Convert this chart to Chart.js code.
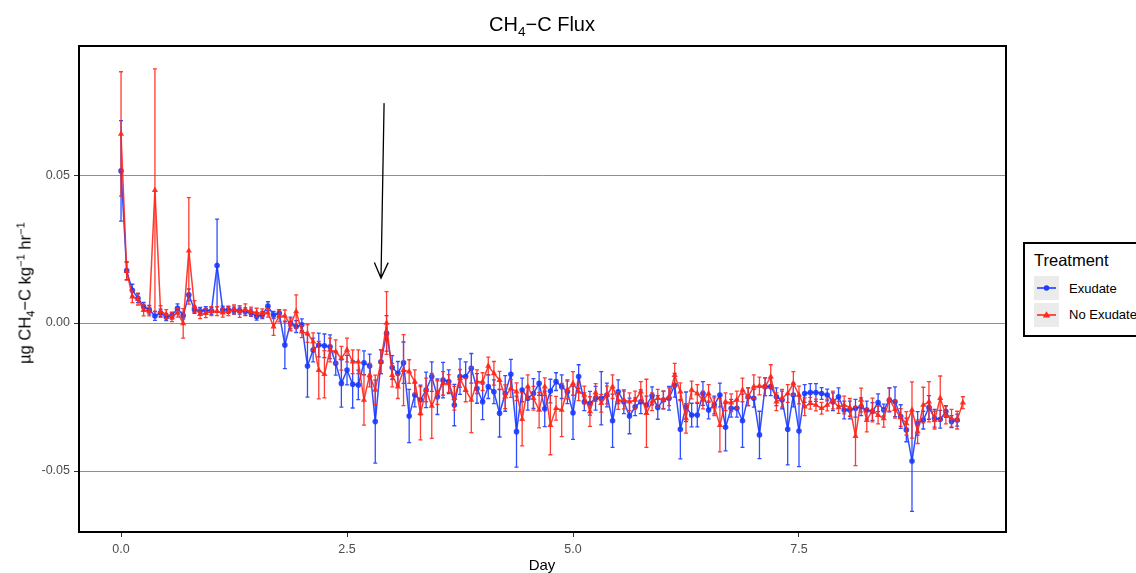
<!DOCTYPE html>
<html>
<head>
<meta charset="utf-8">
<title>CH4-C Flux</title>
<script src="https://cdn.jsdelivr.net/npm/chart.js@4/dist/chart.umd.min.js"></script>
<style>
    html, body { margin: 0; padding: 0; background: #fff; overflow: hidden; }
    body { width: 1136px; height: 573px; position: relative; font-family: "Liberation Sans", Arial, sans-serif; color: #000; }
    #chartWrap { position: absolute; left: 0; top: 0; width: 1136px; height: 573px; }
    .lbl { position: absolute; white-space: nowrap; line-height: 1.15; }
    #ttl { left: 392px; width: 300px; top: 13px; text-align: center; font-size: 20px; }
    #xTitle { left: 492px; width: 100px; top: 556px; text-align: center; font-size: 15px; }
    #yTitle { left: 25px; top: 293px; font-size: 16.5px; transform: translate(-50%, -50%) rotate(-90deg); }
    sub, sup { font-size: 68%; line-height: 0; }
    #legend { position: absolute; left: 1023px; top: 242px; width: 150px; height: 91px; border: 2px solid #000; background: #fff; }
    #legend .head { position: absolute; left: 9px; top: 7px; font-size: 16.5px; }
    #legend .key { position: absolute; left: 9px; width: 25px; height: 24px; background: #ebebeb; }
    #legend .txt { position: absolute; left: 44px; font-size: 13px; }
</style>
</head>
<body>
<div id="chartWrap"><canvas id="cvFlux" width="1136" height="573"></canvas></div>

<div id="ttl" class="lbl">CH<sub>4</sub>−C Flux</div>
<div id="xTitle" class="lbl">Day</div>
<div id="yTitle" class="lbl">µg CH<sub>4</sub>−C kg<sup>−1</sup> hr<sup>−1</sup></div>

<div id="legend">
    <div class="head">Treatment</div>
    <div class="key" style="top:32px">
        <svg width="25" height="24"><line x1="3" y1="12" x2="22" y2="12" stroke="#1f3cff" stroke-width="1.6"/><circle cx="12.5" cy="12" r="2.8" fill="#1f3cff"/></svg>
    </div>
    <div class="txt" style="top:37px">Exudate</div>
    <div class="key" style="top:59px">
        <svg width="25" height="24"><line x1="3" y1="12" x2="22" y2="12" stroke="#ff2a1c" stroke-width="1.6"/><polygon points="12.5,8.2 16.2,14.6 8.8,14.6" fill="#ff2a1c"/></svg>
    </div>
    <div class="txt" style="top:63px">No Exudate</div>
</div>

<script>
"use strict";

/* ---------------- Data ---------------- */
const DAY_STEP = 0.0625;            // sampling interval, days
const X_TICKS = [0, 2.5, 5, 7.5];
const Y_TICKS = [-0.05, 0, 0.05];

const exudateFlux = [
    0.0514, 0.0177, 0.0111, 0.0084, 0.0055, 0.0045, 0.0024, 0.0035, 0.0020, 0.0025,
    0.0050, 0.0025, 0.0095, 0.0045, 0.0041, 0.0043, 0.0041, 0.0194, 0.0045, 0.0045,
    0.0042, 0.0042, 0.0039, 0.0035, 0.0022, 0.0027, 0.0057, 0.0027, 0.0033, -0.0074,
    0.0000, -0.0012, -0.0006, -0.0145, -0.0091, -0.0074, -0.0077, -0.0080, -0.0136, -0.0204,
    -0.0159, -0.0207, -0.0209, -0.0134, -0.0145, -0.0333, -0.0131, -0.0035, -0.0150, -0.0170,
    -0.0134, -0.0314, -0.0243, -0.0260, -0.0226, -0.0181, -0.0249, -0.0193, -0.0198, -0.0277,
    -0.0181, -0.0181, -0.0153, -0.0221, -0.0266, -0.0215, -0.0232, -0.0305, -0.0238, -0.0173,
    -0.0367, -0.0226, -0.0254, -0.0238, -0.0204, -0.0290, -0.0230, -0.0198, -0.0215, -0.0232,
    -0.0303, -0.0181, -0.0266, -0.0271, -0.0254, -0.0254, -0.0243, -0.0330, -0.0232, -0.0266,
    -0.0314, -0.0283, -0.0266, -0.0277, -0.0246, -0.0285, -0.0260, -0.0254, -0.0210, -0.0359,
    -0.0283, -0.0311, -0.0311, -0.0238, -0.0294, -0.0277, -0.0243, -0.0352, -0.0288, -0.0288,
    -0.0330, -0.0249, -0.0254, -0.0378, -0.0215, -0.0215, -0.0249, -0.0260, -0.0359, -0.0243,
    -0.0365, -0.0238, -0.0235, -0.0235, -0.0238, -0.0243, -0.0266, -0.0249, -0.0294, -0.0294,
    -0.0288, -0.0283, -0.0294, -0.0299, -0.0269, -0.0294, -0.0260, -0.0266, -0.0316, -0.0361,
    -0.0466, -0.0339, -0.0328, -0.0285, -0.0322, -0.0325, -0.0299, -0.0333, -0.0328
];
const exudateErr = [
    0.0170, 0.0030, 0.0020, 0.0015, 0.0015, 0.0015, 0.0015, 0.0012, 0.0012, 0.0012,
    0.0015, 0.0012, 0.0020, 0.0012, 0.0012, 0.0012, 0.0012, 0.0157, 0.0012, 0.0012,
    0.0012, 0.0012, 0.0012, 0.0012, 0.0012, 0.0012, 0.0015, 0.0012, 0.0012, 0.0080,
    0.0020, 0.0020, 0.0020, 0.0105, 0.0040, 0.0040, 0.0040, 0.0040, 0.0040, 0.0080,
    0.0050, 0.0080, 0.0050, 0.0040, 0.0040, 0.0140, 0.0040, 0.0060, 0.0040, 0.0040,
    0.0070, 0.0090, 0.0040, 0.0050, 0.0060, 0.0050, 0.0060, 0.0060, 0.0040, 0.0070,
    0.0060, 0.0050, 0.0050, 0.0050, 0.0060, 0.0040, 0.0040, 0.0080, 0.0060, 0.0050,
    0.0120, 0.0040, 0.0040, 0.0050, 0.0040, 0.0060, 0.0040, 0.0030, 0.0040, 0.0040,
    0.0090, 0.0040, 0.0030, 0.0040, 0.0040, 0.0090, 0.0040, 0.0090, 0.0040, 0.0040,
    0.0060, 0.0030, 0.0040, 0.0030, 0.0030, 0.0040, 0.0030, 0.0040, 0.0040, 0.0100,
    0.0050, 0.0040, 0.0040, 0.0040, 0.0030, 0.0030, 0.0040, 0.0080, 0.0030, 0.0030,
    0.0090, 0.0030, 0.0030, 0.0080, 0.0030, 0.0030, 0.0030, 0.0030, 0.0120, 0.0040,
    0.0120, 0.0030, 0.0030, 0.0030, 0.0020, 0.0020, 0.0030, 0.0030, 0.0030, 0.0030,
    0.0030, 0.0030, 0.0030, 0.0030, 0.0030, 0.0020, 0.0040, 0.0050, 0.0040, 0.0040,
    0.0170, 0.0040, 0.0030, 0.0040, 0.0030, 0.0030, 0.0020, 0.0020, 0.0020
];

const noExudateFlux = [
    0.0639, 0.0175, 0.0089, 0.0081, 0.0044, 0.0039, 0.0449, 0.0039, 0.0030, 0.0020,
    0.0035, -0.0001, 0.0244, 0.0056, 0.0030, 0.0033, 0.0040, 0.0040, 0.0035, 0.0040,
    0.0046, 0.0039, 0.0045, 0.0039, 0.0035, 0.0033, 0.0035, -0.0012, 0.0024, 0.0024,
    -0.0006, 0.0039, -0.0029, -0.0035, -0.0063, -0.0159, -0.0173, -0.0091, -0.0097, -0.0119,
    -0.0091, -0.0131, -0.0131, -0.0260, -0.0176, -0.0226, -0.0131, 0.0000, -0.0176, -0.0215,
    -0.0159, -0.0164, -0.0198, -0.0305, -0.0226, -0.0280, -0.0235, -0.0204, -0.0204, -0.0254,
    -0.0187, -0.0226, -0.0260, -0.0198, -0.0198, -0.0145, -0.0170, -0.0193, -0.0249, -0.0221,
    -0.0232, -0.0325, -0.0215, -0.0254, -0.0294, -0.0215, -0.0345, -0.0288, -0.0294, -0.0226,
    -0.0204, -0.0232, -0.0243, -0.0299, -0.0235, -0.0271, -0.0243, -0.0215, -0.0262, -0.0260,
    -0.0266, -0.0260, -0.0232, -0.0305, -0.0266, -0.0254, -0.0260, -0.0249, -0.0176, -0.0232,
    -0.0322, -0.0226, -0.0238, -0.0260, -0.0238, -0.0283, -0.0345, -0.0266, -0.0269, -0.0260,
    -0.0226, -0.0249, -0.0215, -0.0213, -0.0215, -0.0181, -0.0266, -0.0254, -0.0238, -0.0204,
    -0.0243, -0.0283, -0.0271, -0.0277, -0.0288, -0.0277, -0.0260, -0.0285, -0.0277, -0.0285,
    -0.0382, -0.0260, -0.0328, -0.0294, -0.0311, -0.0322, -0.0258, -0.0291, -0.0319, -0.0339,
    -0.0294, -0.0367, -0.0277, -0.0266, -0.0328, -0.0254, -0.0311, -0.0322, -0.0328, -0.0269
];
const noExudateErr = [
    0.0210, 0.0030, 0.0020, 0.0020, 0.0020, 0.0015, 0.0410, 0.0020, 0.0015, 0.0015,
    0.0015, 0.0050, 0.0180, 0.0020, 0.0015, 0.0015, 0.0015, 0.0015, 0.0015, 0.0015,
    0.0015, 0.0020, 0.0020, 0.0015, 0.0015, 0.0015, 0.0015, 0.0030, 0.0020, 0.0020,
    0.0020, 0.0056, 0.0020, 0.0030, 0.0030, 0.0097, 0.0080, 0.0040, 0.0040, 0.0040,
    0.0040, 0.0040, 0.0040, 0.0085, 0.0040, 0.0050, 0.0040, 0.0106, 0.0040, 0.0040,
    0.0120, 0.0040, 0.0040, 0.0090, 0.0040, 0.0110, 0.0040, 0.0040, 0.0030, 0.0040,
    0.0030, 0.0040, 0.0110, 0.0040, 0.0030, 0.0030, 0.0040, 0.0030, 0.0040, 0.0030,
    0.0030, 0.0090, 0.0040, 0.0040, 0.0060, 0.0030, 0.0100, 0.0040, 0.0090, 0.0030,
    0.0040, 0.0030, 0.0030, 0.0050, 0.0030, 0.0030, 0.0030, 0.0040, 0.0030, 0.0030,
    0.0030, 0.0030, 0.0034, 0.0115, 0.0030, 0.0030, 0.0030, 0.0030, 0.0040, 0.0030,
    0.0050, 0.0030, 0.0030, 0.0030, 0.0030, 0.0030, 0.0090, 0.0030, 0.0030, 0.0030,
    0.0040, 0.0030, 0.0040, 0.0030, 0.0030, 0.0040, 0.0030, 0.0030, 0.0030, 0.0040,
    0.0030, 0.0030, 0.0020, 0.0020, 0.0020, 0.0020, 0.0030, 0.0020, 0.0030, 0.0030,
    0.0100, 0.0040, 0.0040, 0.0040, 0.0030, 0.0030, 0.0040, 0.0030, 0.0030, 0.0040,
    0.0095, 0.0040, 0.0060, 0.0068, 0.0030, 0.0075, 0.0030, 0.0030, 0.0030, 0.0020
];

// annotation arrow, in data units (day, flux)
const ARROW_FROM = { x: 2.91, y: 0.0743 };
const ARROW_TO = { x: 2.876, y: 0.0152 };

(function (window, document) {
    "use strict";

    const COLORS = {
        exudate: "rgba(25, 58, 255, 0.9)",
        noExudate: "rgba(255, 38, 26, 0.9)",
        grid: "#8f8f8f",
        tick: "#333333",
        tickText: "#4d4d4d"
    };

    const toPoints = (vals) => vals.map((v, i) => ({ x: i * DAY_STEP, y: v }));

    /* ---------------- Plugins ---------------- */
    const errorBars = {
        id: "errorBars",
        beforeDatasetDraw(chart, args) {
            const ds = chart.data.datasets[args.index];
            if (!ds.errors) return;
            const { ctx, chartArea: a, scales: { x, y } } = chart;
            ctx.save();
            ctx.beginPath();
            ctx.rect(a.left, a.top, a.right - a.left, a.bottom - a.top);
            ctx.clip();
            ctx.strokeStyle = ds.borderColor;
            ctx.lineWidth = 1.3;
            ctx.beginPath();
            ds.data.forEach((p, i) => {
                const e = ds.errors[i] || 0;
                const px = x.getPixelForValue(p.x);
                const top = y.getPixelForValue(p.y + e);
                const bot = y.getPixelForValue(p.y - e);
                ctx.moveTo(px, top); ctx.lineTo(px, bot);
                ctx.moveTo(px - 2, top); ctx.lineTo(px + 2, top);
                ctx.moveTo(px - 2, bot); ctx.lineTo(px + 2, bot);
            });
            ctx.stroke();
            ctx.restore();
        }
    };

    const frameAndArrow = {
        id: "frameAndArrow",
        afterDraw(chart) {
            const { ctx, chartArea: a, scales: { x, y } } = chart;
            ctx.save();
            // panel border
            ctx.strokeStyle = "#000";
            ctx.lineWidth = 2;
            ctx.strokeRect(a.left, a.top, a.right - a.left, a.bottom - a.top);

            // arrow
            const x0 = x.getPixelForValue(ARROW_FROM.x), y0 = y.getPixelForValue(ARROW_FROM.y);
            const x1 = x.getPixelForValue(ARROW_TO.x), y1 = y.getPixelForValue(ARROW_TO.y);
            const ang = Math.atan2(y1 - y0, x1 - x0);
            const len = 17, spread = Math.PI / 7.5;
            ctx.lineWidth = 1.3;
            ctx.beginPath();
            ctx.moveTo(x0, y0); ctx.lineTo(x1, y1);
            ctx.moveTo(x1 - len * Math.cos(ang - spread), y1 - len * Math.sin(ang - spread));
            ctx.lineTo(x1, y1);
            ctx.lineTo(x1 - len * Math.cos(ang + spread), y1 - len * Math.sin(ang + spread));
            ctx.stroke();
            ctx.restore();
        }
    };

    /* ---------------- Chart ---------------- */
    function initChart() {
        const canvas = document.getElementById("cvFlux");
        if (!canvas || typeof Chart === "undefined") return;

        const tickFont = { family: "'Liberation Sans', Arial, sans-serif", size: 12.5 };

        new Chart(canvas.getContext("2d"), {
            type: "line",
            data: {
                datasets: [
                    {
                        label: "No Exudate",
                        data: toPoints(noExudateFlux),
                        errors: noExudateErr,
                        borderColor: COLORS.noExudate,
                        backgroundColor: COLORS.noExudate,
                        borderWidth: 1.5,
                        pointStyle: "triangle",
                        pointRadius: 3.6,
                        pointBorderWidth: 0,
                        tension: 0,
                        order: 0
                    },
                    {
                        label: "Exudate",
                        data: toPoints(exudateFlux),
                        errors: exudateErr,
                        borderColor: COLORS.exudate,
                        backgroundColor: COLORS.exudate,
                        borderWidth: 1.5,
                        pointStyle: "circle",
                        pointRadius: 2.8,
                        pointBorderWidth: 0,
                        tension: 0,
                        order: 1
                    }
                ]
            },
            options: {
                responsive: false,
                animation: false,
                devicePixelRatio: 1,
                layout: { padding: { top: 46, right: 130, bottom: 0, left: 0 } },
                plugins: {
                    legend: { display: false },
                    title: { display: false },
                    tooltip: { enabled: false }
                },
                scales: {
                    x: {
                        type: "linear",
                        min: -0.465,
                        max: 9.79,
                        afterBuildTicks: (s) => { s.ticks = X_TICKS.map(v => ({ value: v })); },
                        afterFit: (s) => { s.height = 41; },
                        grid: { drawOnChartArea: false, tickColor: COLORS.tick, tickLength: 5, lineWidth: 1 },
                        border: { display: false },
                        ticks: {
                            padding: 5,
                            color: COLORS.tickText,
                            font: tickFont,
                            maxRotation: 0,
                            callback: (v) => Number(v).toFixed(1)
                        }
                    },
                    y: {
                        type: "linear",
                        min: -0.0706,
                        max: 0.0936,
                        afterBuildTicks: (s) => { s.ticks = Y_TICKS.map(v => ({ value: v })); },
                        afterFit: (s) => { s.width = 79; },
                        grid: { color: COLORS.grid, tickColor: COLORS.tick, tickLength: 5, lineWidth: 1 },
                        border: { display: false },
                        ticks: {
                            padding: 4,
                            color: COLORS.tickText,
                            font: tickFont,
                            callback: (v) => Number(v).toFixed(2)
                        }
                    }
                }
            },
            plugins: [errorBars, frameAndArrow]
        });
    }

    initChart();

})(window, document);
</script>
</body>
</html>
